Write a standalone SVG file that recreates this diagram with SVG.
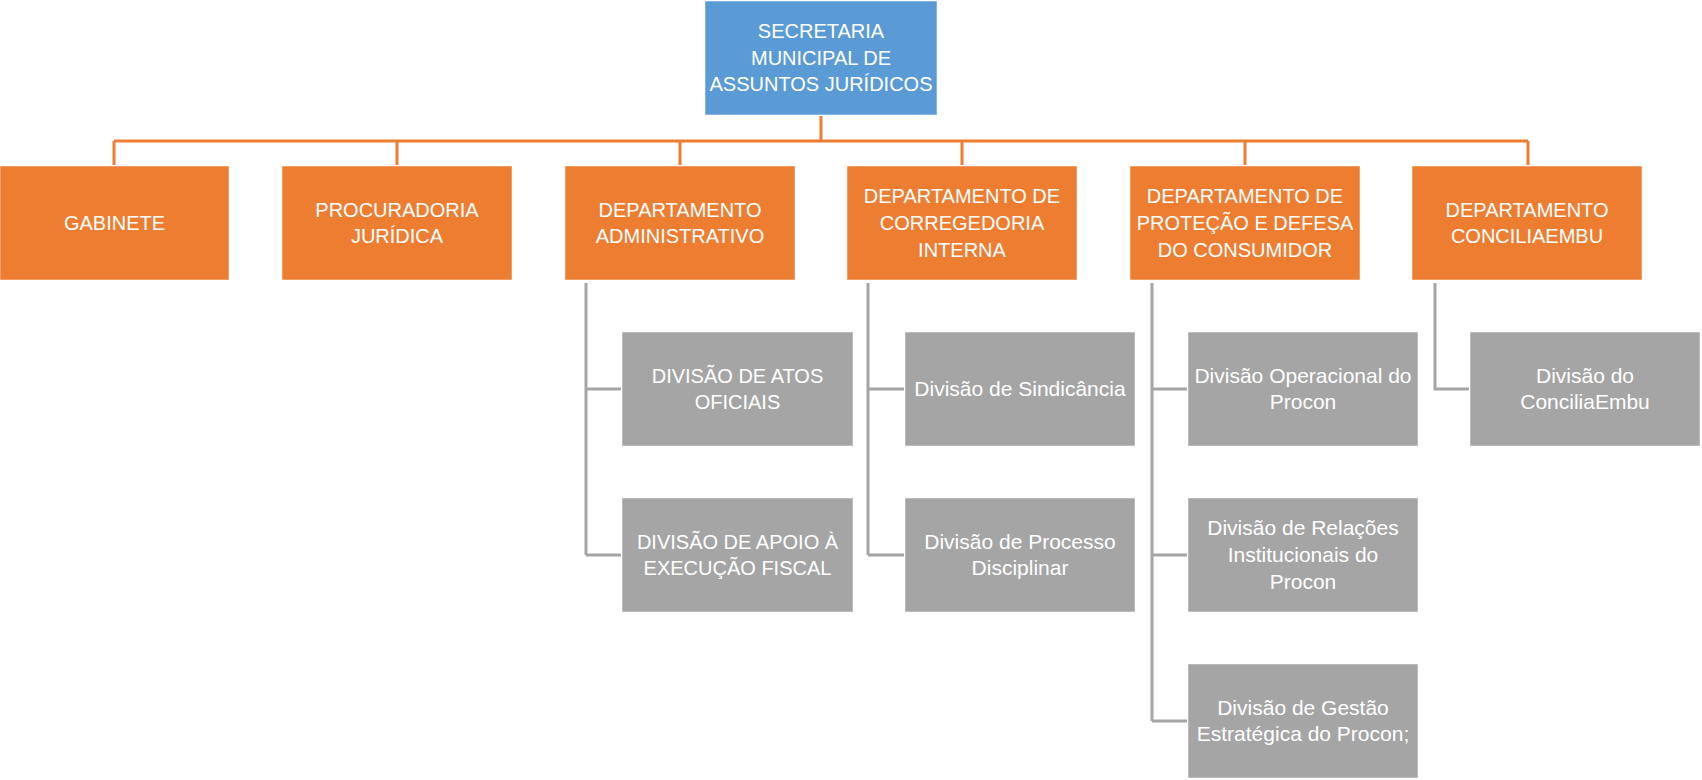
<svg xmlns="http://www.w3.org/2000/svg" width="1702" height="780" viewBox="0 0 1702 780">
<style>
.box{stroke:#ffffff;stroke-opacity:0.5;stroke-width:1}
.blue{fill:#5B9BD5}
.orange{fill:#ED7D31}
.gray{fill:#A5A5A5}
.t{font-family:"Liberation Sans",Arial,sans-serif;fill:#ffffff;text-anchor:middle;font-size:20px}
.tl{font-family:"Liberation Sans",Arial,sans-serif;fill:#ffffff;text-anchor:middle;font-size:21px}
.oc{stroke:#ED7D31;stroke-width:3;fill:none}
.gc{stroke:#A5A5A5;stroke-width:3;fill:none}
</style>
<rect width="1702" height="780" fill="#ffffff"/>
<g id="connectors">
<path class="oc" d="M821 116V141M114 141H1528M114 141V165M397 141V165M680 141V165M962 141V165M1245 141V165M1528 141V165"/>
<path class="gc" d="M586 283V555M586 389H621M586 555H621"/>
<path class="gc" d="M868 283V555M868 389H904M868 555H904"/>
<path class="gc" d="M1152 283V721M1152 389H1187M1152 555H1187M1152 721H1187"/>
<path class="gc" d="M1435 283V389H1469"/>
</g>
<g id="secretaria">
<rect class="box blue" x="705" y="1" width="232" height="114"/>
<text class="t"><tspan x="821" y="38">SECRETARIA</tspan><tspan x="821" y="64.7">MUNICIPAL DE</tspan><tspan x="821" y="91.4">ASSUNTOS JURÍDICOS</tspan></text>
</g>
<g id="gabinete">
<rect class="box orange" x="0" y="166" width="229" height="114"/>
<text class="t"><tspan x="114.5" y="230">GABINETE</tspan></text>
</g>
<g id="procuradoria">
<rect class="box orange" x="282" y="166" width="230" height="114"/>
<text class="t"><tspan x="397" y="216.6">PROCURADORIA</tspan><tspan x="397" y="243.3">JURÍDICA</tspan></text>
</g>
<g id="dep-administrativo">
<rect class="box orange" x="565" y="166" width="230" height="114"/>
<text class="t"><tspan x="680" y="216.6">DEPARTAMENTO</tspan><tspan x="680" y="243.3">ADMINISTRATIVO</tspan></text>
</g>
<g id="dep-corregedoria">
<rect class="box orange" x="847" y="166" width="230" height="114"/>
<text class="t"><tspan x="962" y="203.3">DEPARTAMENTO DE</tspan><tspan x="962" y="230">CORREGEDORIA</tspan><tspan x="962" y="256.7">INTERNA</tspan></text>
</g>
<g id="dep-protecao">
<rect class="box orange" x="1130" y="166" width="230" height="114"/>
<text class="t"><tspan x="1245" y="203.3">DEPARTAMENTO DE</tspan><tspan x="1245" y="230">PROTEÇÃO E DEFESA</tspan><tspan x="1245" y="256.7">DO CONSUMIDOR</tspan></text>
</g>
<g id="dep-conciliaembu">
<rect class="box orange" x="1412" y="166" width="230" height="114"/>
<text class="t"><tspan x="1527" y="216.6">DEPARTAMENTO</tspan><tspan x="1527" y="243.3">CONCILIAEMBU</tspan></text>
</g>
<g id="div-atos-oficiais">
<rect class="box gray" x="622" y="332" width="231" height="114"/>
<text class="t"><tspan x="737.5" y="382.6">DIVISÃO DE ATOS</tspan><tspan x="737.5" y="409.3">OFICIAIS</tspan></text>
</g>
<g id="div-apoio-execucao">
<rect class="box gray" x="622" y="498" width="231" height="114"/>
<text class="t"><tspan x="737.5" y="548.6">DIVISÃO DE APOIO À</tspan><tspan x="737.5" y="575.3">EXECUÇÃO FISCAL</tspan></text>
</g>
<g id="div-sindicancia">
<rect class="box gray" x="905" y="332" width="230" height="114"/>
<text class="tl"><tspan x="1020" y="396">Divisão de Sindicância</tspan></text>
</g>
<g id="div-processo-disciplinar">
<rect class="box gray" x="905" y="498" width="230" height="114"/>
<text class="tl"><tspan x="1020" y="548.6">Divisão de Processo</tspan><tspan x="1020" y="575.3">Disciplinar</tspan></text>
</g>
<g id="div-operacional-procon">
<rect class="box gray" x="1188" y="332" width="230" height="114"/>
<text class="tl"><tspan x="1303" y="382.6">Divisão Operacional do</tspan><tspan x="1303" y="409.3">Procon</tspan></text>
</g>
<g id="div-relacoes-procon">
<rect class="box gray" x="1188" y="498" width="230" height="114"/>
<text class="tl"><tspan x="1303" y="535.3">Divisão de Relações</tspan><tspan x="1303" y="562">Institucionais do</tspan><tspan x="1303" y="588.7">Procon</tspan></text>
</g>
<g id="div-gestao-procon">
<rect class="box gray" x="1188" y="664" width="230" height="114"/>
<text class="tl"><tspan x="1303" y="714.6">Divisão de Gestão</tspan><tspan x="1303" y="741.3">Estratégica do Procon;</tspan></text>
</g>
<g id="div-conciliaembu">
<rect class="box gray" x="1470" y="332" width="230" height="114"/>
<text class="tl"><tspan x="1585" y="382.6">Divisão do</tspan><tspan x="1585" y="409.3">ConciliaEmbu</tspan></text>
</g>
</svg>
